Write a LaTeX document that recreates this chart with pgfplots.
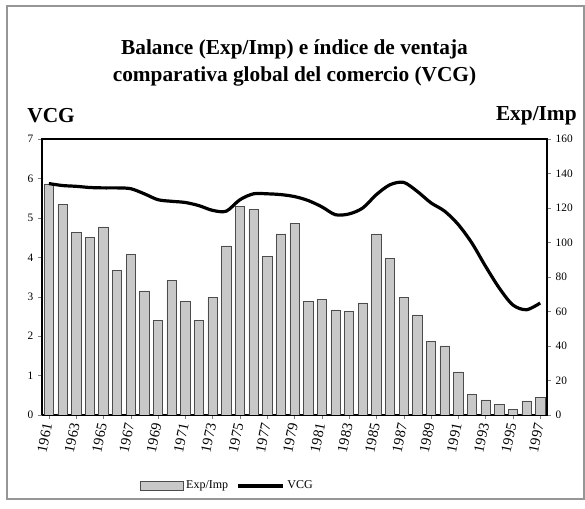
\documentclass[border=0pt]{standalone}
\usepackage{pgfplots}
\pgfplotsset{compat=1.18}
\usepackage{fontspec}
\setmainfont{Liberation Serif}

\definecolor{barfill}{RGB}{200,200,200}
\definecolor{frame}{RGB}{150,150,150}

\pgfplotsset{
    barlegend/.style={legend image code/.code={\draw[##1] (0pt,-3.5pt) rectangle (32pt,3.5pt);}},
    linelegend/.style={legend image code/.code={\draw[##1] (0pt,0pt) -- (34pt,0pt);}},
}

\begin{document}
\begin{tikzpicture}
% page frame (585 x 509 px, 1px = 0.75pt)
\path (0pt,0pt) rectangle (438.75pt,381.75pt);
\draw[frame, line width=0.8pt] (5.25pt,7.5pt) rectangle (438pt,377.25pt);

\begin{axis}[
    at={(31.5pt,70.5pt)}, anchor=south west,
    width=378.75pt, height=207pt, scale only axis,
    xmin=1960.5, xmax=1997.5,
    ymin=0, ymax=160,
    ytick={0,20,...,160},
    ytick pos=right,
    xtick={1961,1963,...,1997},
    xtick pos=bottom,
    xticklabel style={rotate=78, anchor=east, font=\fontsize{11}{11}\selectfont},
    x tick label style={/pgf/number format/1000 sep={}},
    yticklabel style={font=\fontsize{8.5}{8.5}\selectfont},
    /pgf/number format/assume math mode=true,
    tick align=outside,
    major tick length=3pt,
    axis line style={line width=0.8pt},
    ybar, bar width=7pt,
]
\addplot[fill=barfill, draw=black!70, line width=0.4pt] coordinates {
(1961,134) (1962,122) (1963,106) (1964,103) (1965,109) (1966,84) (1967,93)
(1968,72) (1969,55) (1970,78) (1971,66) (1972,55) (1973,68) (1974,98)
(1975,121) (1976,119) (1977,92) (1978,105) (1979,111) (1980,66) (1981,67)
(1982,61) (1983,60) (1984,65) (1985,105) (1986,91) (1987,68) (1988,58)
(1989,42.5) (1990,40) (1991,25) (1992,12) (1993,8.7) (1994,6.2) (1995,3.4)
(1996,8.2) (1997,10)
};
\end{axis}

\begin{axis}[
    at={(31.5pt,70.5pt)}, anchor=south west,
    width=378.75pt, height=207pt, scale only axis,
    xmin=1960.5, xmax=1997.5,
    ymin=0, ymax=7,
    ytick={0,1,...,7},
    axis y line*=left,
    axis x line=none,
    yticklabel style={font=\fontsize{8.5}{8.5}\selectfont},
    /pgf/number format/assume math mode=true,
    tick align=outside,
    major tick length=3pt,
    axis line style={line width=0.8pt},
    title={\bfseries Balance (Exp/Imp) e índice de ventaja\\[1pt]\bfseries comparativa global del comercio (VCG)},
    title style={font=\fontsize{16}{19}\selectfont, align=center, yshift=30pt},
    legend columns=2,
    legend style={at={(0.368,-0.257)}, anchor=center, draw=none,
        font=\fontsize{9}{9}\selectfont,
        /tikz/every even column/.append style={column sep=4pt}},
]
\addlegendimage{fill=barfill, draw=black!70, barlegend}
\addlegendentry{Exp/Imp}
\addplot[black, line width=2.4pt, smooth, linelegend] coordinates {
(1961,5.87) (1962,5.82) (1963,5.80) (1964,5.77) (1965,5.76) (1966,5.76)
(1967,5.74) (1968,5.61) (1969,5.46) (1970,5.42) (1971,5.39) (1972,5.31)
(1973,5.19) (1974,5.17) (1975,5.46) (1976,5.61) (1977,5.61) (1978,5.59)
(1979,5.54) (1980,5.44) (1981,5.28) (1982,5.08) (1983,5.10) (1984,5.25)
(1985,5.59) (1986,5.84) (1987,5.90) (1988,5.67) (1989,5.38) (1990,5.17)
(1991,4.83) (1992,4.36) (1993,3.77) (1994,3.22) (1995,2.79) (1996,2.67)
(1997,2.84)
};
\addlegendentry{VCG}
\end{axis}

\node[anchor=west, font=\bfseries\fontsize{16}{16}\selectfont] at (17pt,295pt) {VCG};
\node[anchor=east, font=\bfseries\fontsize{16}{16}\selectfont] at (436pt,295pt) {Exp/Imp};
\end{tikzpicture}
\end{document}
